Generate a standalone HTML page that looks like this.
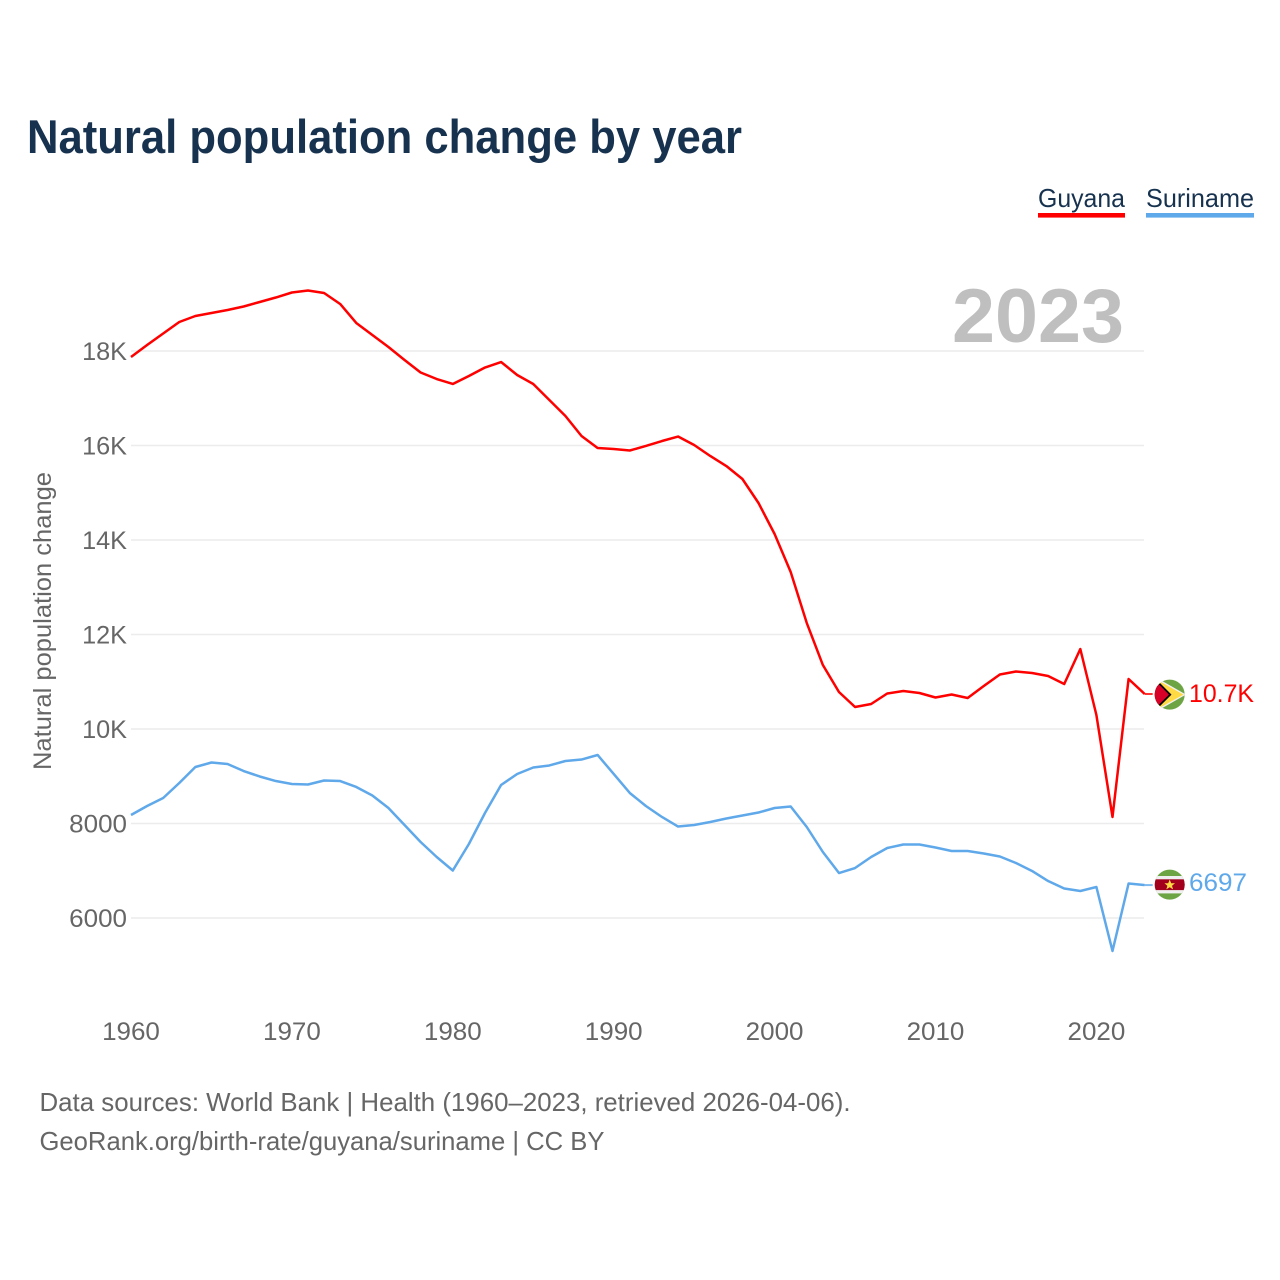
<!DOCTYPE html>
<html lang="en">
<head>
<meta charset="utf-8">
<title>Natural population change by year</title>
<style>
html,body{margin:0;padding:0;background:#fff;width:1280px;height:1280px;overflow:hidden}
svg{display:block}
text{font-family:"Liberation Sans",sans-serif}
</style>
</head>
<body>
<svg id="chart" width="1280" height="1280" viewBox="0 0 1280 1280" xmlns="http://www.w3.org/2000/svg">
  <defs>
    <clipPath id="guyana-clip"><circle cx="1169.7" cy="694.6" r="15"/></clipPath>
    <clipPath id="suriname-clip"><circle cx="1169.7" cy="884.6" r="15"/></clipPath>
  </defs>
  <text x="27" y="153" font-size="47" font-weight="700" fill="#17324f" textLength="715" lengthAdjust="spacingAndGlyphs">Natural population change by year</text>

  <g>
    <text x="1038" y="207" font-size="26" fill="#17324f" textLength="87" lengthAdjust="spacingAndGlyphs">Guyana</text>
    <rect x="1038" y="213" width="87" height="4.6" fill="#ff0000"/>
  </g>
  <g>
    <text x="1146" y="207" font-size="26" fill="#17324f" textLength="108" lengthAdjust="spacingAndGlyphs">Suriname</text>
    <rect x="1146" y="213" width="108" height="4.6" fill="#5fa8ea"/>
  </g>

  <g id="grid"></g>
  <g id="y-axis"></g>
  <g id="x-axis"></g>

  <text x="1124" y="342" text-anchor="end" font-size="76" font-weight="700" fill="#bfbfbf" textLength="172" lengthAdjust="spacingAndGlyphs">2023</text>

  <text transform="translate(51,770) rotate(-90)" font-size="25" fill="#666666" textLength="298" lengthAdjust="spacingAndGlyphs">Natural population change</text>

  <g id="series"></g>

  <g clip-path="url(#guyana-clip)">
    <rect x="1154" y="679" width="32" height="32" fill="#6da544"/>
    <path d="M1150 674 L1186 694.6 L1150 715 Z" fill="#f0f0f0"/>
    <path d="M1152 677 L1183.5 694.6 L1152 712 Z" fill="#ffda44"/>
    <path d="M1150 673 L1171.5 694.6 L1150 716 Z" fill="#000000"/>
    <path d="M1150 675.5 L1169 694.6 L1150 713.5 Z" fill="#d80027"/>
  </g>
  <g clip-path="url(#suriname-clip)">
    <rect x="1154" y="869" width="32" height="32" fill="#6da544"/>
    <rect x="1154" y="876" width="32" height="17.4" fill="#f0f0f0"/>
    <rect x="1154" y="879.3" width="32" height="10.8" fill="#a2001d"/>
    <path d="M1169.7 879.6 L1171.2 883.2 L1175 883.3 L1172 885.7 L1173.1 889.4 L1169.7 887.2 L1166.3 889.4 L1167.4 885.7 L1164.4 883.3 L1168.2 883.2 Z" fill="#ffda44"/>
  </g>

  <text x="1189" y="702" font-size="25" fill="#ff0000" textLength="65" lengthAdjust="spacingAndGlyphs">10.7K</text>
  <text x="1189" y="891" font-size="25" fill="#5fa8ea" textLength="58" lengthAdjust="spacingAndGlyphs">6697</text>

  <text x="39.5" y="1111" font-size="26" fill="#666666" textLength="811" lengthAdjust="spacingAndGlyphs">Data sources: World Bank | Health (1960–2023, retrieved 2026-04-06).</text>
  <text x="39.5" y="1150" font-size="26" fill="#666666" textLength="565" lengthAdjust="spacingAndGlyphs">GeoRank.org/birth-rate/guyana/suriname | CC BY</text>
</svg>

<script>
const startYear = 1960;
const yTickValues = [6000, 8000, 10000, 12000, 14000, 16000, 18000];
const yTickLabels = ["6000", "8000", "10K", "12K", "14K", "16K", "18K"];
const xTickYears = [1960, 1970, 1980, 1990, 2000, 2010, 2020];
const guyanaValues = [
  17873, 18127, 18370, 18614, 18741, 18804, 18868, 18942, 19037, 19132,
  19238, 19280, 19228, 18995, 18593, 18339, 18085, 17810, 17545, 17407,
  17302, 17471, 17650, 17767, 17492, 17302, 16963, 16624, 16201, 15947,
  15926, 15894, 15990, 16095, 16190, 16011, 15778, 15566, 15291, 14783,
  14127, 13323, 12243, 11354, 10783, 10466, 10529, 10751, 10804, 10762,
  10667, 10730, 10656, 10910, 11153, 11217, 11185, 11122, 10952, 11693,
  10296, 8138, 11058, 10741
];
const surinameValues = [
  8180, 8370, 8540, 8857, 9196, 9291, 9259, 9111, 8995, 8899,
  8836, 8825, 8910, 8899, 8773, 8593, 8328, 7968, 7608, 7291,
  7005, 7566, 8222, 8815, 9048, 9185, 9228, 9323, 9354, 9450,
  9048, 8646, 8370, 8138, 7936, 7968, 8032, 8106, 8169, 8233,
  8328, 8360, 7926, 7397, 6952, 7058, 7291, 7481, 7556, 7556,
  7492, 7418, 7418, 7365, 7302, 7164, 6995, 6783, 6624, 6571,
  6656, 5302, 6730, 6697
];

const NS = "http://www.w3.org/2000/svg";
function xScale(year) { return 131 + (year - 1960) * 16.09; }
function yScale(v) { return 918 - (v - 6000) * 0.04725; }
function make(tag, attrs, parent) {
  const el = document.createElementNS(NS, tag);
  for (const k in attrs) el.setAttribute(k, attrs[k]);
  parent.appendChild(el);
  return el;
}
function labelWidth(s) {
  return s.replace("K", "").length * 14.45 + (s.indexOf("K") >= 0 ? 16 : 0);
}

const grid = document.getElementById("grid");
const yAxis = document.getElementById("y-axis");
yTickValues.forEach(function (v, i) {
  const y = yScale(v);
  const line = make("line", { x1: 131, x2: 1144, y1: y, y2: y, stroke: "#ececec", "stroke-width": 1.6 }, grid);
  
  
  const t = make("text", { x: 127, y: y + 9, "text-anchor": "end", "font-size": 25, fill: "#666666",
    textLength: labelWidth(yTickLabels[i]), lengthAdjust: "spacingAndGlyphs" }, yAxis);
  t.textContent = yTickLabels[i];
  
  
});

const xAxis = document.getElementById("x-axis");
xTickYears.forEach(function (yr) {
  const t = make("text", { x: xScale(yr), y: 1040, "text-anchor": "middle", "font-size": 25, fill: "#666666",
    textLength: labelWidth(String(yr)), lengthAdjust: "spacingAndGlyphs" }, xAxis);
  t.textContent = String(yr);
  
  
});

function drawSeries(values, color, name) {
  const seriesGroup = document.getElementById("series");
  const pts = values.map(function (v, i) { return xScale(startYear + i) + "," + yScale(v); });
  const line = make("polyline", { points: pts.join(" "), fill: "none", stroke: color, "stroke-width": 2.5, "stroke-linejoin": "round" }, seriesGroup);
  
  
  const lastX = xScale(startYear + values.length - 1);
  const lastY = yScale(values[values.length - 1]);
  const lead = make("line", { x1: lastX, x2: lastX + 8, y1: lastY, y2: lastY, stroke: color, "stroke-width": 2, opacity: 0.8 }, seriesGroup);
  
  
}
drawSeries(guyanaValues, "#ff0000", "guyana");
drawSeries(surinameValues, "#5fa8ea", "suriname");
</script>
</body>
</html>
